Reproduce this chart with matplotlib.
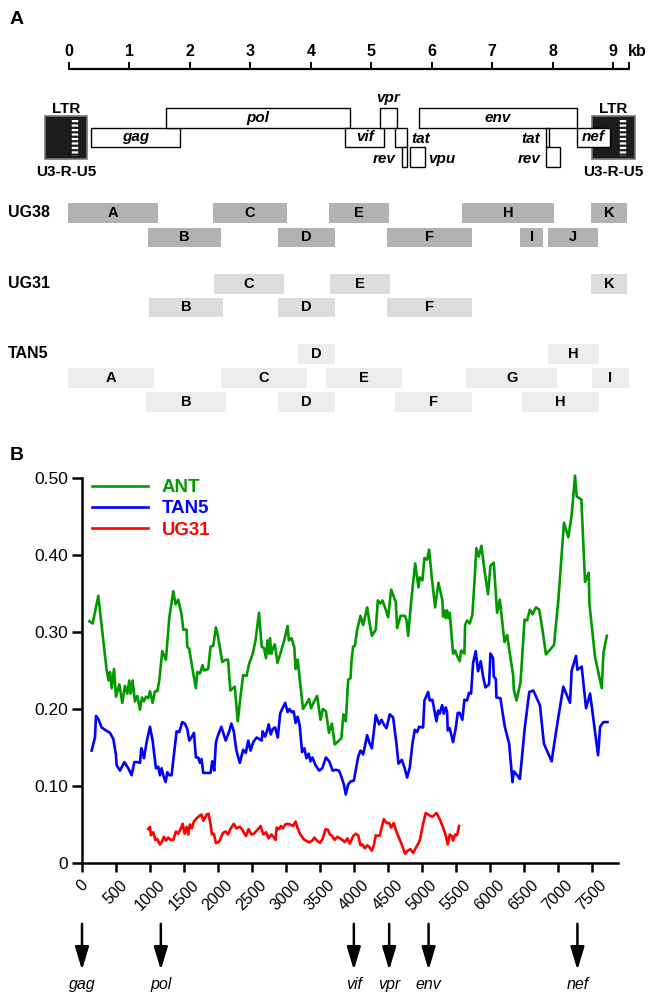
import matplotlib
matplotlib.use('Agg')
import matplotlib.pyplot as plt
from matplotlib.patches import Rectangle

plt.rcParams['font.family'] = ['Liberation Sans', 'DejaVu Sans']

# ---- panel A: genome map (kb) ----
ruler_ticks = [0, 1, 2, 3, 4, 5, 6, 7, 8, 9]
ruler_end = 9.27

ltr_start = [-0.39, 8.66]
ltr_end = [0.29, 9.36]

gene_names = ['gag', 'pol', 'vif', 'vpr', 'tat', 'rev', 'vpu', 'env', 'tat', 'rev', 'nef']
gene_start = [0.37, 1.60, 4.57, 5.14, 5.40, 5.51, 5.64, 5.79, 7.90, 7.90, 8.41]
gene_end = [1.84, 4.65, 5.22, 5.43, 5.60, 5.60, 5.89, 8.41, 7.95, 8.13, 8.95]
gene_row = [1, 0, 1, 0, 1, 2, 2, 0, 1, 2, 1]
# where the label goes: inside, above, right, left
gene_label_pos = ['in', 'in', 'in', 'above', 'right', 'left', 'right', 'in', 'left', 'left', 'in']

# PCR fragments (kb)
ug38_names = ['A', 'B', 'C', 'D', 'E', 'F', 'H', 'I', 'J', 'K']
ug38_start = [-0.02, 1.31, 2.38, 3.46, 4.30, 5.26, 6.51, 7.47, 7.92, 8.63]
ug38_end = [1.48, 2.52, 3.61, 4.40, 5.29, 6.66, 8.02, 7.84, 8.76, 9.24]
ug38_row = [0, 1, 0, 1, 0, 1, 0, 1, 1, 0]

ug31_names = ['B', 'C', 'D', 'E', 'F', 'K']
ug31_start = [1.33, 2.40, 3.46, 4.32, 5.26, 8.63]
ug31_end = [2.54, 3.56, 4.40, 5.31, 6.66, 9.24]
ug31_row = [1, 0, 1, 0, 1, 0]

tan5_names = ['D', 'H', 'A', 'C', 'E', 'G', 'I', 'B', 'D', 'F', 'H']
tan5_start = [3.79, 7.93, -0.02, 2.51, 4.25, 6.57, 8.65, 1.28, 3.46, 5.39, 7.49]
tan5_end = [4.40, 8.77, 1.41, 3.93, 5.51, 8.08, 9.26, 2.60, 4.40, 6.66, 8.77]
tan5_row = [0, 0, 1, 1, 1, 1, 1, 2, 2, 2, 2]

# ---- panel B: distance along genome ----
ant_x = [108, 157, 240, 363, 392, 412, 436, 471, 500, 549, 593, 632, 667, 696, 716, 745, 779, 814, 853, 882,
         912, 941, 975, 1000, 1039, 1073, 1108, 1137, 1181, 1235, 1284, 1343, 1377, 1416, 1465, 1490, 1539,
         1549, 1578, 1637, 1676, 1696, 1735, 1774, 1794, 1857, 1892, 1931, 1970, 2000, 2064, 2114, 2149, 2183,
         2223, 2248, 2292, 2332, 2371, 2421, 2460, 2510, 2554, 2604, 2644, 2678, 2708, 2728, 2747, 2767, 2787,
         2807, 2837, 2876, 2916, 2975, 3025, 3044, 3084, 3124, 3143, 3173, 3203, 3252, 3302, 3341, 3371, 3411,
         3460, 3510, 3544, 3589, 3634, 3678, 3718, 3757, 3817, 3846, 3881, 3917, 3951, 3966, 3990, 4015, 4049,
         4098, 4137, 4196, 4225, 4265, 4323, 4353, 4392, 4421, 4470, 4505, 4549, 4588, 4617, 4637, 4686, 4750,
         4774, 4799, 4843, 4902, 4951, 4970, 5009, 5039, 5078, 5107, 5147, 5196, 5245, 5303, 5313, 5333, 5352,
         5372, 5392, 5411, 5460, 5490, 5519, 5558, 5578, 5627, 5637, 5666, 5705, 5744, 5774, 5803, 5838, 5877,
         5921, 5975, 6010, 6059, 6108, 6148, 6216, 6256, 6295, 6344, 6354, 6394, 6453, 6512, 6551, 6590, 6630,
         6679, 6728, 6777, 6827, 6886, 6945, 7009, 7092, 7156, 7205, 7255, 7279, 7348, 7402, 7456, 7466, 7550,
         7648, 7673, 7722]
ant_y = [0.314, 0.311, 0.347, 0.250, 0.237, 0.248, 0.227, 0.252, 0.216, 0.232, 0.208, 0.230, 0.220, 0.237,
         0.220, 0.237, 0.210, 0.217, 0.199, 0.215, 0.210, 0.216, 0.214, 0.223, 0.208, 0.223, 0.223, 0.237,
         0.275, 0.264, 0.318, 0.353, 0.336, 0.342, 0.323, 0.303, 0.303, 0.281, 0.278, 0.246, 0.227, 0.248,
         0.246, 0.257, 0.250, 0.252, 0.281, 0.282, 0.306, 0.295, 0.261, 0.264, 0.264, 0.224, 0.227, 0.229,
         0.184, 0.216, 0.244, 0.243, 0.259, 0.271, 0.289, 0.325, 0.281, 0.279, 0.266, 0.289, 0.272, 0.292,
         0.272, 0.278, 0.284, 0.260, 0.271, 0.289, 0.308, 0.289, 0.292, 0.280, 0.252, 0.264, 0.240, 0.200,
         0.207, 0.213, 0.201, 0.209, 0.217, 0.186, 0.200, 0.197, 0.169, 0.181, 0.154, 0.157, 0.162, 0.193,
         0.184, 0.238, 0.240, 0.263, 0.281, 0.282, 0.303, 0.321, 0.309, 0.332, 0.315, 0.295, 0.303, 0.341,
         0.337, 0.341, 0.329, 0.319, 0.355, 0.346, 0.339, 0.305, 0.321, 0.321, 0.316, 0.295, 0.339, 0.389,
         0.358, 0.371, 0.367, 0.396, 0.394, 0.407, 0.371, 0.332, 0.364, 0.341, 0.320, 0.328, 0.318, 0.328,
         0.318, 0.325, 0.272, 0.276, 0.269, 0.262, 0.276, 0.272, 0.309, 0.315, 0.311, 0.322, 0.364, 0.409,
         0.398, 0.412, 0.381, 0.349, 0.386, 0.390, 0.325, 0.342, 0.287, 0.296, 0.272, 0.244, 0.225, 0.211,
         0.235, 0.316, 0.315, 0.329, 0.323, 0.332, 0.329, 0.302, 0.271, 0.277, 0.283, 0.341, 0.442, 0.423,
         0.452, 0.503, 0.476, 0.472, 0.365, 0.377, 0.337, 0.267, 0.227, 0.273, 0.295]

tan5_x = [142, 191, 206, 240, 289, 338, 412, 461, 500, 510, 559, 623, 681, 730, 770, 814, 853, 872, 892, 912,
          951, 1000, 1039, 1088, 1122, 1147, 1171, 1196, 1230, 1255, 1284, 1318, 1367, 1392, 1431, 1475, 1514,
          1549, 1578, 1603, 1647, 1676, 1711, 1735, 1759, 1784, 1857, 1892, 1916, 1946, 1970, 1990, 2050, 2114,
          2163, 2198, 2233, 2272, 2322, 2371, 2411, 2446, 2480, 2520, 2569, 2609, 2644, 2658, 2693, 2718, 2747,
          2777, 2807, 2842, 2881, 2916, 2945, 2990, 3025, 3054, 3084, 3114, 3143, 3173, 3203, 3238, 3272, 3302,
          3336, 3361, 3391, 3436, 3490, 3535, 3589, 3638, 3688, 3733, 3782, 3817, 3856, 3881, 3916, 3955, 4000,
          4064, 4098, 4137, 4196, 4225, 4265, 4323, 4372, 4407, 4441, 4480, 4529, 4578, 4627, 4657, 4706, 4745,
          4784, 4823, 4862, 4897, 4931, 4960, 5019, 5039, 5093, 5117, 5156, 5186, 5215, 5240, 5264, 5299, 5323,
          5352, 5372, 5382, 5411, 5460, 5499, 5529, 5558, 5597, 5627, 5666, 5695, 5725, 5754, 5793, 5828, 5867,
          5902, 5936, 5990, 6010, 6049, 6059, 6089, 6098, 6157, 6221, 6285, 6335, 6354, 6403, 6443, 6517, 6581,
          6640, 6738, 6797, 6910, 6994, 7082, 7181, 7205, 7269, 7289, 7353, 7417, 7476, 7594, 7624, 7673, 7732]
tan5_y = [0.146, 0.163, 0.191, 0.187, 0.176, 0.173, 0.169, 0.161, 0.140, 0.127, 0.120, 0.131, 0.123, 0.114,
          0.131, 0.131, 0.130, 0.149, 0.144, 0.136, 0.157, 0.177, 0.159, 0.123, 0.125, 0.114, 0.123, 0.114,
          0.105, 0.118, 0.114, 0.114, 0.152, 0.171, 0.170, 0.183, 0.181, 0.174, 0.159, 0.162, 0.169, 0.137,
          0.137, 0.130, 0.135, 0.117, 0.117, 0.117, 0.132, 0.120, 0.156, 0.163, 0.177, 0.159, 0.170, 0.181,
          0.171, 0.146, 0.130, 0.147, 0.143, 0.159, 0.146, 0.157, 0.163, 0.161, 0.159, 0.171, 0.164, 0.170,
          0.180, 0.167, 0.174, 0.176, 0.163, 0.194, 0.200, 0.208, 0.196, 0.200, 0.196, 0.197, 0.182, 0.190,
          0.179, 0.144, 0.149, 0.136, 0.142, 0.132, 0.137, 0.127, 0.120, 0.123, 0.137, 0.132, 0.120, 0.121,
          0.120, 0.112, 0.101, 0.089, 0.102, 0.106, 0.107, 0.138, 0.146, 0.141, 0.166, 0.157, 0.149, 0.192,
          0.180, 0.186, 0.180, 0.175, 0.193, 0.189, 0.155, 0.129, 0.134, 0.124, 0.111, 0.124, 0.155, 0.173,
          0.170, 0.177, 0.176, 0.211, 0.222, 0.211, 0.212, 0.198, 0.184, 0.198, 0.194, 0.205, 0.194, 0.202,
          0.196, 0.172, 0.175, 0.157, 0.175, 0.195, 0.195, 0.186, 0.212, 0.211, 0.221, 0.220, 0.259, 0.275,
          0.249, 0.262, 0.242, 0.228, 0.232, 0.272, 0.266, 0.242, 0.239, 0.215, 0.214, 0.177, 0.155, 0.105,
          0.119, 0.114, 0.109, 0.177, 0.222, 0.224, 0.205, 0.155, 0.132, 0.181, 0.229, 0.208, 0.250, 0.269,
          0.251, 0.255, 0.201, 0.220, 0.140, 0.177, 0.183, 0.183]

ug31_x = [975, 1000, 1015, 1049, 1078, 1108, 1147, 1171, 1206, 1235, 1269, 1304, 1343, 1382, 1416, 1456, 1480,
          1510, 1539, 1563, 1588, 1617, 1647, 1686, 1725, 1759, 1784, 1808, 1833, 1862, 1892, 1912, 1941, 1970,
          2004, 2025, 2074, 2114, 2149, 2183, 2233, 2272, 2322, 2361, 2411, 2450, 2495, 2530, 2579, 2629, 2668,
          2708, 2747, 2787, 2827, 2846, 2866, 2901, 2926, 2955, 2990, 3025, 3064, 3104, 3143, 3173, 3213, 3262,
          3312, 3351, 3386, 3421, 3460, 3500, 3539, 3584, 3619, 3648, 3683, 3718, 3757, 3797, 3832, 3866, 3906,
          3941, 3990, 4029, 4064, 4098, 4127, 4162, 4196, 4225, 4265, 4294, 4323, 4353, 4382, 4412, 4441, 4480,
          4519, 4549, 4588, 4617, 4657, 4696, 4725, 4755, 4794, 4833, 4872, 4921, 4970, 5009, 5058, 5107, 5156,
          5215, 5264, 5313, 5352, 5382, 5411, 5441, 5460, 5490, 5519, 5549]
ug31_y = [0.044, 0.047, 0.036, 0.040, 0.030, 0.031, 0.024, 0.027, 0.034, 0.029, 0.033, 0.030, 0.030, 0.041,
          0.038, 0.045, 0.051, 0.038, 0.047, 0.037, 0.050, 0.045, 0.054, 0.058, 0.061, 0.063, 0.055, 0.058,
          0.063, 0.064, 0.050, 0.037, 0.038, 0.026, 0.027, 0.029, 0.039, 0.041, 0.037, 0.044, 0.051, 0.045,
          0.047, 0.043, 0.035, 0.044, 0.037, 0.038, 0.043, 0.048, 0.037, 0.040, 0.032, 0.037, 0.033, 0.030,
          0.046, 0.044, 0.048, 0.045, 0.050, 0.051, 0.050, 0.048, 0.054, 0.045, 0.037, 0.031, 0.028, 0.027,
          0.029, 0.033, 0.029, 0.026, 0.031, 0.044, 0.043, 0.037, 0.035, 0.030, 0.034, 0.032, 0.030, 0.027,
          0.032, 0.025, 0.035, 0.038, 0.036, 0.023, 0.024, 0.019, 0.023, 0.021, 0.016, 0.023, 0.036, 0.035,
          0.036, 0.047, 0.057, 0.052, 0.052, 0.046, 0.052, 0.043, 0.034, 0.026, 0.019, 0.012, 0.016, 0.018,
          0.013, 0.021, 0.029, 0.047, 0.065, 0.062, 0.060, 0.065, 0.057, 0.046, 0.036, 0.024, 0.037, 0.035,
          0.029, 0.037, 0.036, 0.048]

x_ticks = list(range(0, 7501, 500))
y_ticks = [0, 0.1, 0.2, 0.3, 0.4, 0.5]
y_tick_labels = ['0', '0.10', '0.20', '0.30', '0.40', '0.50']

arrow_names = ['gag', 'pol', 'vif', 'vpr', 'env', 'nef']
arrow_pos = [0, 1160, 4000, 4520, 5100, 7290]

# ---------------------------------------------------------------
W, H = 649, 992
fig = plt.figure(figsize=(W / 100, H / 100), dpi=100)

# panel A drawn in kb horizontally, pixel rows vertically
x0, px_kb, topA = 69, 60.44, 445
axA = fig.add_axes([0, 1 - topA / H, 1, topA / H])
axA.set_xlim(-x0 / px_kb, (W - x0) / px_kb)
axA.set_ylim(topA, 0)
axA.axis('off')

fig.text(10 / W, 1 - 20 / H, 'A', fontsize=14, fontweight='bold', va='center')
fig.text(10 / W, 1 - 455 / H, 'B', fontsize=14, fontweight='bold', va='center')

# ruler
axA.plot([0, ruler_end], [69, 69], color='k', lw=1.6, solid_capstyle='butt')
for t in ruler_ticks + [ruler_end]:
    axA.plot([t, t], [69, 63], color='k', lw=1.4)
for t in ruler_ticks:
    axA.text(t, 51, str(t), ha='center', va='center', fontsize=11.5, fontweight='bold')
axA.text(ruler_end + 0.13, 51, 'kb', ha='center', va='center', fontsize=11.5, fontweight='bold')

# LTRs
for s, e in zip(ltr_start, ltr_end):
    axA.add_patch(Rectangle((s, 116), e - s, 43, facecolor='#1c1c1c', edgecolor='#777777', lw=1.2))
    xs = s + 0.72 * (e - s)
    axA.plot([xs, xs], [120, 156], color='white', lw=4.6, dashes=(0.35, 0.35), solid_capstyle='butt')
    axA.text((s + e) / 2, 109, 'LTR', ha='center', va='center', fontsize=11, fontweight='bold')
    axA.text((s + e) / 2, 172, 'U3-R-U5', ha='center', va='center', fontsize=11, fontweight='bold')

# genes
row_top = [108, 127.5, 147]
row_h = 19.5
for name, s, e, r, lp in zip(gene_names, gene_start, gene_end, gene_row, gene_label_pos):
    axA.add_patch(Rectangle((s, row_top[r]), e - s, row_h, facecolor='white', edgecolor='k', lw=1.0))
    yc = row_top[r] + row_h / 2
    kw = dict(fontsize=11, fontweight='bold', style='italic', va='center')
    if lp == 'in':
        axA.text((s + e) / 2, yc, name, ha='center', **kw)
    elif lp == 'above':
        axA.text((s + e) / 2, row_top[r] - 10, name, ha='center', **kw)
    elif lp == 'right':
        axA.text(e + 0.06, yc + 2, name, ha='left', **kw)
    else:
        axA.text(s - 0.1, yc + 2, name, ha='right', **kw)

# fragments
frag_h = 19.5
groups = [
    ('UG38', ug38_names, ug38_start, ug38_end, ug38_row, '#b2b2b2', [203, 227.5]),
    ('UG31', ug31_names, ug31_start, ug31_end, ug31_row, '#dcdcdc', [274, 297.5]),
    ('TAN5', tan5_names, tan5_start, tan5_end, tan5_row, '#ececec', [344, 368, 392]),
]
for label, names, starts, ends, rows, col, tops in groups:
    axA.text(-61 / px_kb, tops[0] + frag_h / 2, label, ha='left', va='center', fontsize=11.5,
             fontweight='bold')
    for n, s, e, r in zip(names, starts, ends, rows):
        axA.add_patch(Rectangle((s, tops[r]), e - s, frag_h, facecolor=col, edgecolor='none'))
        axA.text((s + e) / 2, tops[r] + frag_h / 2, n, ha='center', va='center', fontsize=10.5,
                 fontweight='bold')

# panel B
axB = fig.add_axes([82 / W, 1 - 863 / H, 536 / W, 385 / H])
axB.plot(ant_x, ant_y, color='#009900', lw=1.9, label='ANT', clip_on=False)
axB.plot(tan5_x, tan5_y, color='#0000ff', lw=1.9, label='TAN5')
axB.plot(ug31_x, ug31_y, color='#ff0000', lw=1.9, label='UG31')
axB.set_xlim(0, 7887)
axB.set_ylim(0, 0.5)
for side in ['top', 'right']:
    axB.spines[side].set_visible(False)
for side in ['left', 'bottom']:
    axB.spines[side].set_linewidth(1.8)
axB.set_xticks(x_ticks)
axB.set_xticklabels([str(t) for t in x_ticks], rotation=45, fontsize=11.5)
axB.set_yticks(y_ticks)
axB.set_yticklabels(y_tick_labels, fontsize=12.5)
axB.tick_params(axis='y', length=7, width=1.8, pad=3)
axB.tick_params(axis='x', length=6.5, width=1.8, pad=4)

leg = axB.legend(loc='upper left', bbox_to_anchor=(0.005, 1.016), frameon=False, handlelength=3.0,
                 handletextpad=0.75, labelspacing=0.22, borderaxespad=0,
                 prop={'weight': 'bold', 'size': 13.4})
for txt, line in zip(leg.get_texts(), leg.get_lines()):
    txt.set_color(line.get_color())

for name, xg in zip(arrow_names, arrow_pos):
    axB.annotate('', xy=(xg, -0.278), xytext=(xg, -0.158), xycoords=('data', 'axes fraction'),
                 textcoords=('data', 'axes fraction'), annotation_clip=False,
                 arrowprops=dict(arrowstyle='-|>,head_length=1.4,head_width=0.42', color='k', lw=1.8,
                                 shrinkA=0, shrinkB=0, mutation_scale=10))
    axB.text(xg, -0.315, name, transform=axB.get_xaxis_transform(), ha='center', va='center',
             fontsize=11.5, style='italic', clip_on=False)

fig.savefig('out.png', dpi=100)
